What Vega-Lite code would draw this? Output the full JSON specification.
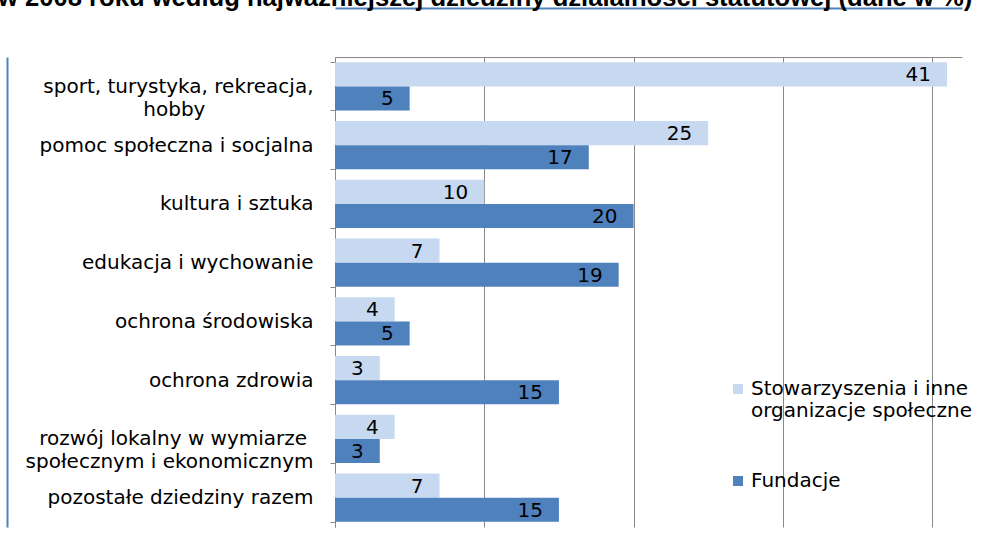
{
  "$schema": "https://vega.github.io/schema/vega-lite/v6.json",
  "width": 627,
  "height": 470,
  "autosize": {"type": "none"},
  "padding": {"left": 335, "top": 57, "right": 32, "bottom": 10},
  "background": "white",
  "title": {
    "text": "w 2008 roku według najważniejszej dziedziny działalności statutowej (dane w %)",
    "anchor": "start",
    "frame": "group",
    "font": "Liberation Sans",
    "fontSize": 25.6,
    "fontWeight": "bold",
    "color": "black",
    "baseline": "alphabetic",
    "offset": -24,
    "dx": -337
  },
  "config": {"view": {"stroke": null}, "font": "DejaVu Sans"},
  "data": {
    "values": [
      {"dziedzina": "sport, turystyka, rekreacja, hobby", "seria": "Stowarzyszenia i inne organizacje społeczne", "wartosc": 41},
      {"dziedzina": "sport, turystyka, rekreacja, hobby", "seria": "Fundacje", "wartosc": 5},
      {"dziedzina": "pomoc społeczna i socjalna", "seria": "Stowarzyszenia i inne organizacje społeczne", "wartosc": 25},
      {"dziedzina": "pomoc społeczna i socjalna", "seria": "Fundacje", "wartosc": 17},
      {"dziedzina": "kultura i sztuka", "seria": "Stowarzyszenia i inne organizacje społeczne", "wartosc": 10},
      {"dziedzina": "kultura i sztuka", "seria": "Fundacje", "wartosc": 20},
      {"dziedzina": "edukacja i wychowanie", "seria": "Stowarzyszenia i inne organizacje społeczne", "wartosc": 7},
      {"dziedzina": "edukacja i wychowanie", "seria": "Fundacje", "wartosc": 19},
      {"dziedzina": "ochrona środowiska", "seria": "Stowarzyszenia i inne organizacje społeczne", "wartosc": 4},
      {"dziedzina": "ochrona środowiska", "seria": "Fundacje", "wartosc": 5},
      {"dziedzina": "ochrona zdrowia", "seria": "Stowarzyszenia i inne organizacje społeczne", "wartosc": 3},
      {"dziedzina": "ochrona zdrowia", "seria": "Fundacje", "wartosc": 15},
      {"dziedzina": "rozwój lokalny w wymiarze społecznym i ekonomicznym", "seria": "Stowarzyszenia i inne organizacje społeczne", "wartosc": 4},
      {"dziedzina": "rozwój lokalny w wymiarze społecznym i ekonomicznym", "seria": "Fundacje", "wartosc": 3},
      {"dziedzina": "pozostałe dziedziny razem", "seria": "Stowarzyszenia i inne organizacje społeczne", "wartosc": 7},
      {"dziedzina": "pozostałe dziedziny razem", "seria": "Fundacje", "wartosc": 15}
    ]
  },
  "resolve": {"axis": {"x": "independent", "y": "independent"}},
  "layer": [
    {
      "mark": {"type": "bar"},
      "encoding": {
        "y": {
          "field": "dziedzina", "type": "nominal", "sort": null,
          "scale": {"paddingInner": 0.18, "paddingOuter": 0.09},
          "axis": {
            "orient": "left", "title": null,
            "domainColor": "#888888", "domainWidth": 1,
            "tickColor": "#888888", "tickSize": 5, "tickBand": "extent",
            "labelFont": "DejaVu Sans", "labelFontSize": 20, "labelColor": "black",
            "labelLimit": 0, "labelLineHeight": 23, "labelPadding": 17,
            "labelExpr": "datum.label == 'sport, turystyka, rekreacja, hobby' ? ['sport, turystyka, rekreacja,', 'hobby\u00a0\u00a0\u00a0\u00a0\u00a0\u00a0\u00a0\u00a0\u00a0\u00a0\u00a0\u00a0\u00a0\u00a0\u00a0\u00a0\u00a0\u200b'] : datum.label == 'rozwój lokalny w wymiarze społecznym i ekonomicznym' ? ['rozwój lokalny w wymiarze\u00a0\u200b', 'społecznym i ekonomicznym'] : datum.label"
          }
        },
        "yOffset": {"field": "seria", "type": "nominal", "sort": ["Stowarzyszenia i inne organizacje społeczne", "Fundacje"]},
        "x": {
          "field": "wartosc", "type": "quantitative",
          "scale": {"domain": [0, 42], "nice": false, "zero": true},
          "axis": {
            "orient": "top", "title": null, "labels": false, "ticks": false,
            "domainColor": "#888888", "domainWidth": 1,
            "grid": true, "gridColor": "#888888", "gridWidth": 1,
            "values": [0, 10, 20, 30, 40]
          }
        },
        "color": {
          "field": "seria", "type": "nominal",
          "scale": {"domain": ["Stowarzyszenia i inne organizacje społeczne", "Fundacje"], "range": ["#C6D9F1", "#4F81BD"]},
          "legend": {
            "orient": "none", "legendX": 393, "legendY": 322,
            "title": null, "padding": 0,
            "symbolType": "square", "symbolSize": 100, "symbolStrokeWidth": 0,
            "labelFont": "DejaVu Sans", "labelFontSize": 20, "labelColor": "black",
            "labelLimit": 0, "labelLineHeight": 23, "labelOffset": 3,
            "rowPadding": 50,
            "labelExpr": "datum.label == 'Fundacje' ? 'Fundacje' : ['Stowarzyszenia i inne', 'organizacje społeczne']"
          }
        }
      }
    },
    {
      "mark": {"type": "text", "align": "right", "baseline": "middle", "dx": -16, "dy": 1, "font": "DejaVu Sans", "fontSize": 20, "color": "black"},
      "encoding": {
        "y": {
          "field": "dziedzina", "type": "nominal", "sort": null,
          "axis": {"orient": "left", "offset": 328, "title": null, "labels": false, "ticks": false, "grid": false, "domainColor": "#4F81BD", "domainWidth": 2}
        },
        "yOffset": {"field": "seria", "type": "nominal", "sort": ["Stowarzyszenia i inne organizacje społeczne", "Fundacje"]},
        "x": {
          "field": "wartosc", "type": "quantitative",
          "axis": {"orient": "top", "offset": 49, "title": null, "labels": false, "ticks": false, "grid": false, "domainColor": "#4F81BD", "domainWidth": 2}
        },
        "text": {"field": "wartosc", "type": "quantitative"}
      }
    }
  ]
}
